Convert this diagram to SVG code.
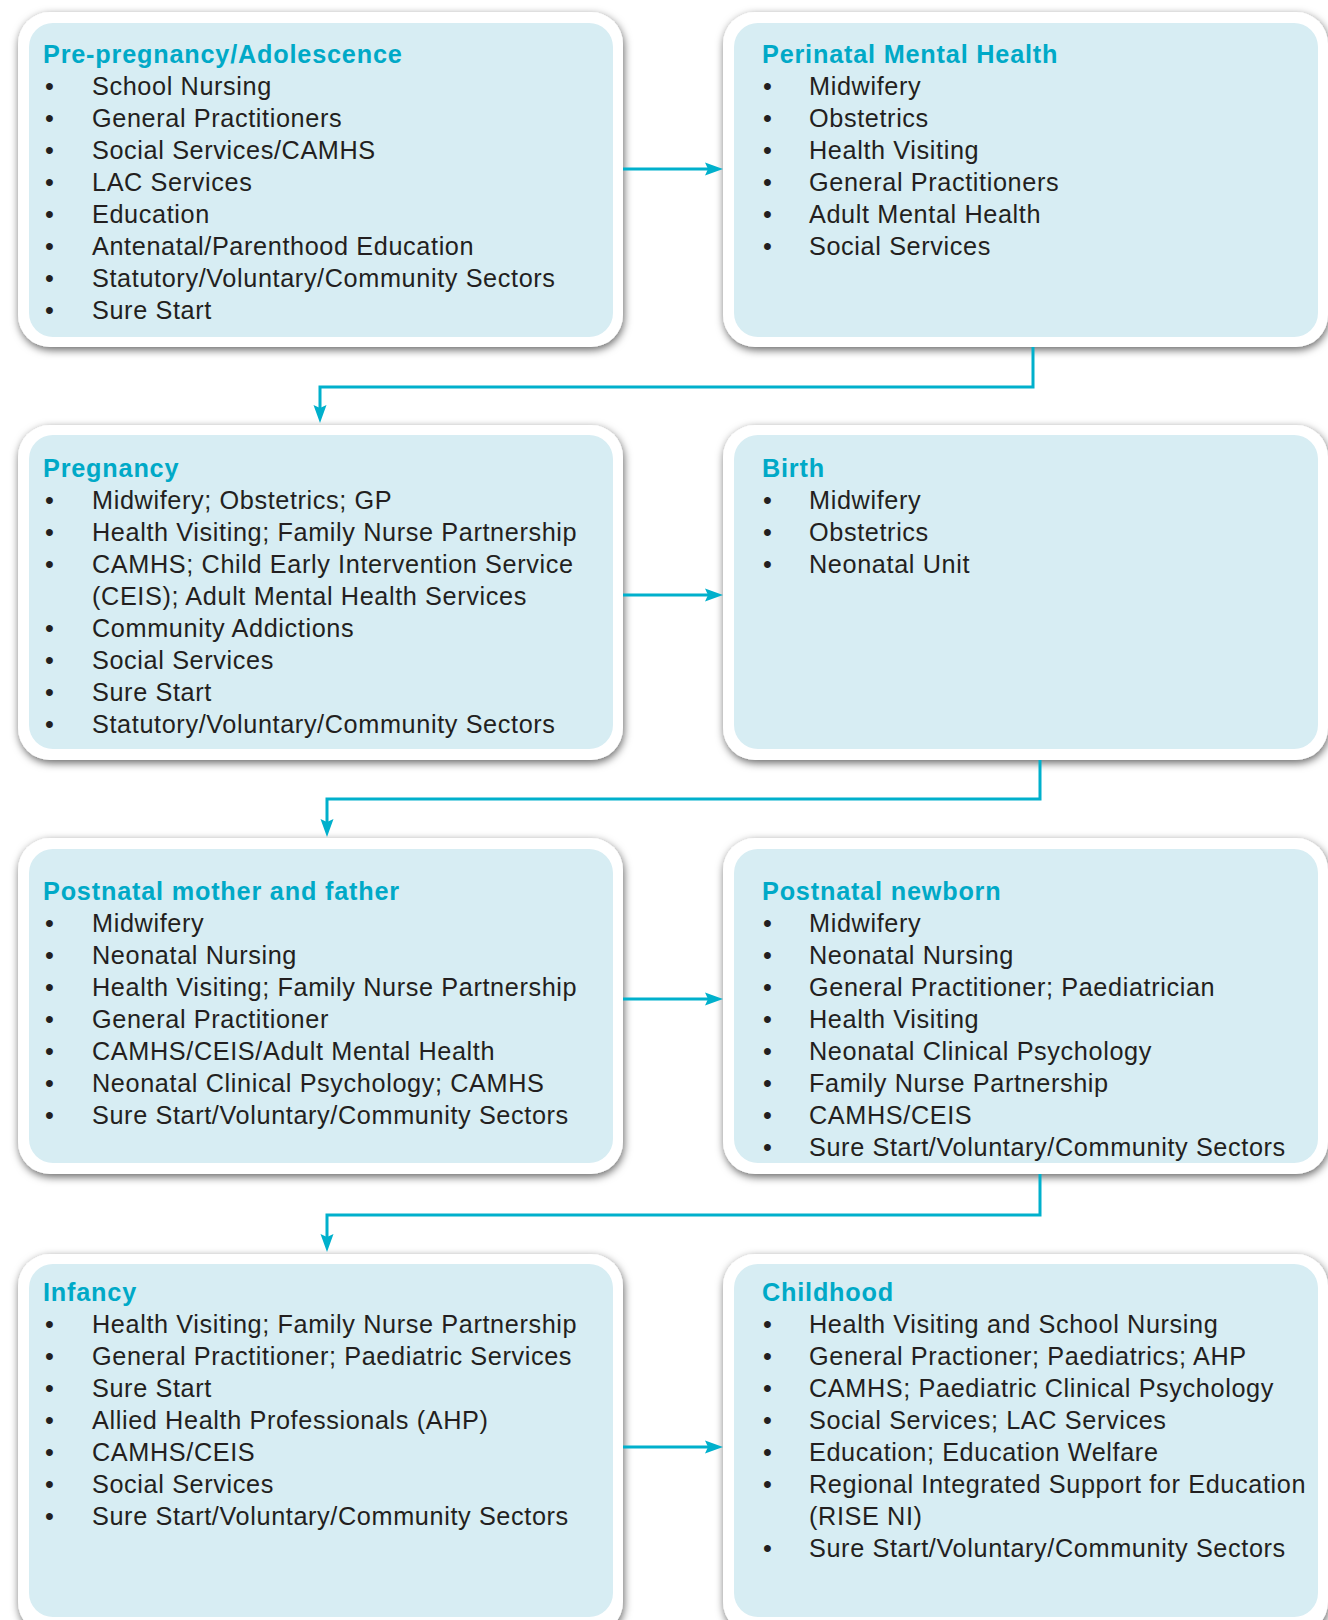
<svg xmlns="http://www.w3.org/2000/svg" width="1328" height="1620" viewBox="0 0 1328 1620">
<defs>
<filter id="shadow" x="-5%" y="-5%" width="110%" height="115%">
<feDropShadow dx="1" dy="3" stdDeviation="4" flood-color="#000" flood-opacity="0.6"/>
</filter>
<marker id="arrow" markerUnits="userSpaceOnUse" viewBox="0 -7 18 14" markerWidth="18" markerHeight="14" refX="3" refY="0" orient="auto">
<path d="M0,-6.5 L18,0 L0,6.5 L3,0 z" fill="#00b0cc"/>
</marker>
<style>
.outer{fill:#ffffff;filter:url(#shadow);}
.inner{fill:#d7edf3;}
.title{font-family:"Liberation Sans",Arial,sans-serif;font-weight:bold;font-size:25.25px;letter-spacing:0.8px;fill:#00a9c7;}
.item{font-family:"Liberation Sans",Arial,sans-serif;font-size:25.25px;letter-spacing:0.62px;fill:#231f20;}
.conn{fill:none;stroke:#00b0cc;stroke-width:3;marker-end:url(#arrow);}
</style>
</defs>
<rect width="1328" height="1620" fill="#ffffff"/>

<g id="node-prepregnancy">
<rect class="outer" x="18" y="12" width="605" height="335" rx="32"/>
<rect class="inner" x="29" y="23" width="584" height="314" rx="24"/>
<text class="title" x="43" y="63">Pre-pregnancy/Adolescence</text>
<g class="item">
<text x="45" y="95">•</text><text x="92" y="95">School Nursing</text>
<text x="45" y="127">•</text><text x="92" y="127">General Practitioners</text>
<text x="45" y="159">•</text><text x="92" y="159">Social Services/CAMHS</text>
<text x="45" y="191">•</text><text x="92" y="191">LAC Services</text>
<text x="45" y="223">•</text><text x="92" y="223">Education</text>
<text x="45" y="255">•</text><text x="92" y="255">Antenatal/Parenthood Education</text>
<text x="45" y="287">•</text><text x="92" y="287">Statutory/Voluntary/Community Sectors</text>
<text x="45" y="319">•</text><text x="92" y="319">Sure Start</text>
</g>
</g>

<g id="node-perinatal">
<rect class="outer" x="723" y="12" width="605" height="335" rx="32"/>
<rect class="inner" x="734" y="23" width="584" height="314" rx="24"/>
<text class="title" x="762" y="63">Perinatal Mental Health</text>
<g class="item">
<text x="763" y="95">•</text><text x="809" y="95">Midwifery</text>
<text x="763" y="127">•</text><text x="809" y="127">Obstetrics</text>
<text x="763" y="159">•</text><text x="809" y="159">Health Visiting</text>
<text x="763" y="191">•</text><text x="809" y="191">General Practitioners</text>
<text x="763" y="223">•</text><text x="809" y="223">Adult Mental Health</text>
<text x="763" y="255">•</text><text x="809" y="255">Social Services</text>
</g>
</g>

<g id="node-pregnancy">
<rect class="outer" x="18" y="425" width="605" height="335" rx="32"/>
<rect class="inner" x="29" y="435" width="584" height="314" rx="24"/>
<text class="title" x="43" y="477">Pregnancy</text>
<g class="item">
<text x="45" y="509">•</text><text x="92" y="509">Midwifery; Obstetrics; GP</text>
<text x="45" y="541">•</text><text x="92" y="541">Health Visiting; Family Nurse Partnership</text>
<text x="45" y="573">•</text><text x="92" y="573">CAMHS; Child Early Intervention Service</text>
<text x="92" y="605">(CEIS); Adult Mental Health Services</text>
<text x="45" y="637">•</text><text x="92" y="637">Community Addictions</text>
<text x="45" y="669">•</text><text x="92" y="669">Social Services</text>
<text x="45" y="701">•</text><text x="92" y="701">Sure Start</text>
<text x="45" y="733">•</text><text x="92" y="733">Statutory/Voluntary/Community Sectors</text>
</g>
</g>

<g id="node-birth">
<rect class="outer" x="723" y="425" width="605" height="335" rx="32"/>
<rect class="inner" x="734" y="435" width="584" height="314" rx="24"/>
<text class="title" x="762" y="477">Birth</text>
<g class="item">
<text x="763" y="509">•</text><text x="809" y="509">Midwifery</text>
<text x="763" y="541">•</text><text x="809" y="541">Obstetrics</text>
<text x="763" y="573">•</text><text x="809" y="573">Neonatal Unit</text>
</g>
</g>

<g id="node-postnatal-parents">
<rect class="outer" x="18" y="838" width="605" height="336" rx="32"/>
<rect class="inner" x="29" y="849" width="584" height="314" rx="24"/>
<text class="title" x="43" y="900">Postnatal mother and father</text>
<g class="item">
<text x="45" y="932">•</text><text x="92" y="932">Midwifery</text>
<text x="45" y="964">•</text><text x="92" y="964">Neonatal Nursing</text>
<text x="45" y="996">•</text><text x="92" y="996">Health Visiting; Family Nurse Partnership</text>
<text x="45" y="1028">•</text><text x="92" y="1028">General Practitioner</text>
<text x="45" y="1060">•</text><text x="92" y="1060">CAMHS/CEIS/Adult Mental Health</text>
<text x="45" y="1092">•</text><text x="92" y="1092">Neonatal Clinical Psychology; CAMHS</text>
<text x="45" y="1124">•</text><text x="92" y="1124">Sure Start/Voluntary/Community Sectors</text>
</g>
</g>

<g id="node-postnatal-newborn">
<rect class="outer" x="723" y="838" width="605" height="336" rx="32"/>
<rect class="inner" x="734" y="849" width="584" height="314" rx="24"/>
<text class="title" x="762" y="900">Postnatal newborn</text>
<g class="item">
<text x="763" y="932">•</text><text x="809" y="932">Midwifery</text>
<text x="763" y="964">•</text><text x="809" y="964">Neonatal Nursing</text>
<text x="763" y="996">•</text><text x="809" y="996">General Practitioner; Paediatrician</text>
<text x="763" y="1028">•</text><text x="809" y="1028">Health Visiting</text>
<text x="763" y="1060">•</text><text x="809" y="1060">Neonatal Clinical Psychology</text>
<text x="763" y="1092">•</text><text x="809" y="1092">Family Nurse Partnership</text>
<text x="763" y="1124">•</text><text x="809" y="1124">CAMHS/CEIS</text>
<text x="763" y="1156">•</text><text x="809" y="1156">Sure Start/Voluntary/Community Sectors</text>
</g>
</g>

<g id="node-infancy">
<rect class="outer" x="18" y="1254" width="605" height="380" rx="32"/>
<rect class="inner" x="29" y="1264" width="584" height="353" rx="24"/>
<text class="title" x="43" y="1301">Infancy</text>
<g class="item">
<text x="45" y="1333">•</text><text x="92" y="1333">Health Visiting; Family Nurse Partnership</text>
<text x="45" y="1365">•</text><text x="92" y="1365">General Practitioner; Paediatric Services</text>
<text x="45" y="1397">•</text><text x="92" y="1397">Sure Start</text>
<text x="45" y="1429">•</text><text x="92" y="1429">Allied Health Professionals (AHP)</text>
<text x="45" y="1461">•</text><text x="92" y="1461">CAMHS/CEIS</text>
<text x="45" y="1493">•</text><text x="92" y="1493">Social Services</text>
<text x="45" y="1525">•</text><text x="92" y="1525">Sure Start/Voluntary/Community Sectors</text>
</g>
</g>

<g id="node-childhood">
<rect class="outer" x="723" y="1254" width="605" height="380" rx="32"/>
<rect class="inner" x="734" y="1264" width="584" height="353" rx="24"/>
<text class="title" x="762" y="1301">Childhood</text>
<g class="item">
<text x="763" y="1333">•</text><text x="809" y="1333">Health Visiting and School Nursing</text>
<text x="763" y="1365">•</text><text x="809" y="1365">General Practioner; Paediatrics; AHP</text>
<text x="763" y="1397">•</text><text x="809" y="1397">CAMHS; Paediatric Clinical Psychology</text>
<text x="763" y="1429">•</text><text x="809" y="1429">Social Services; LAC Services</text>
<text x="763" y="1461">•</text><text x="809" y="1461">Education; Education Welfare</text>
<text x="763" y="1493">•</text><text x="809" y="1493">Regional Integrated Support for Education</text>
<text x="809" y="1525">(RISE NI)</text>
<text x="763" y="1557">•</text><text x="809" y="1557">Sure Start/Voluntary/Community Sectors</text>
</g>
</g>

<g id="connectors">
<path class="conn" d="M623,169 H708"/>
<path class="conn" d="M1033,347 V387 H320 V408"/>
<path class="conn" d="M623,595 H708"/>
<path class="conn" d="M1040,760 V799 H327 V822"/>
<path class="conn" d="M623,999 H708"/>
<path class="conn" d="M1040,1174 V1215 H327 V1237"/>
<path class="conn" d="M623,1447 H708"/>
</g>
</svg>
